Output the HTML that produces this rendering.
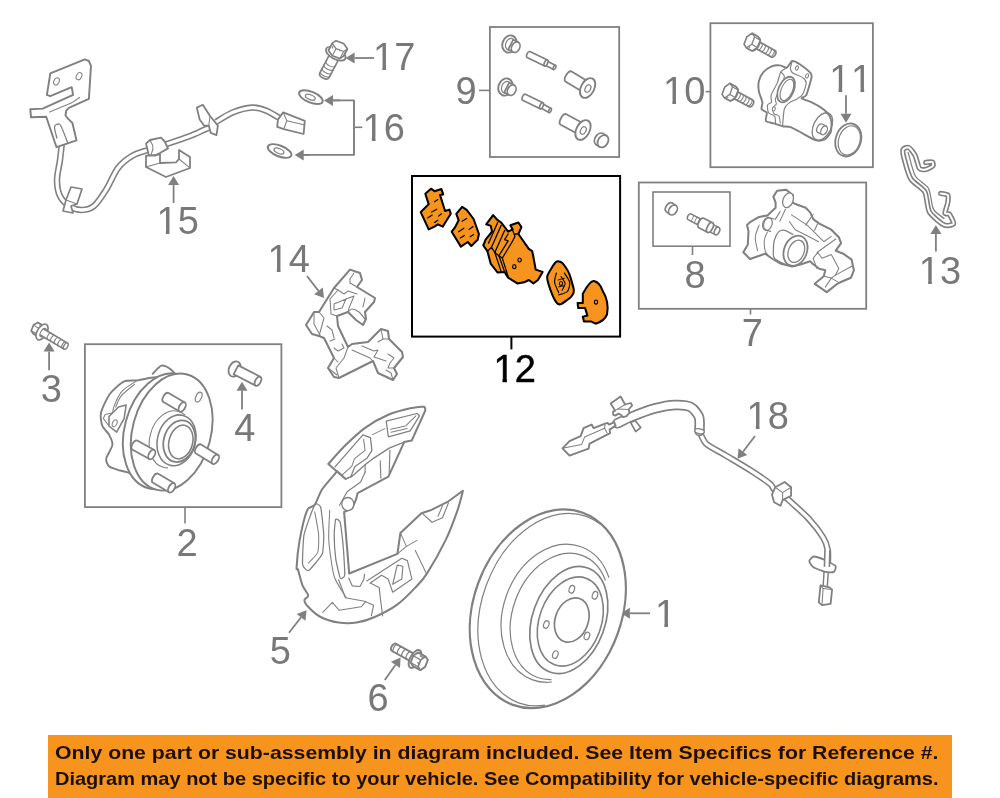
<!DOCTYPE html>
<html><head><meta charset="utf-8"><title>Parts diagram</title>
<style>
html,body{margin:0;padding:0;background:#fff;}
body{width:1000px;height:798px;overflow:hidden;position:relative;font-family:"Liberation Sans",sans-serif;}
svg{position:absolute;left:0;top:0;display:block;will-change:transform;}
svg text{font-family:"Liberation Sans",sans-serif;font-kerning:none;}
.banner{position:absolute;left:48px;top:735px;width:904px;height:63px;background:#F7941D;}
.banner div{position:absolute;left:8px;white-space:nowrap;font-weight:bold;color:#1a0d05;font-size:18.4px;line-height:26px;letter-spacing:-0.1px;transform-origin:left top;}
</style></head><body>
<div class="banner"></div>
<svg width="1000" height="798" viewBox="0 0 1000 798">
<rect x="489.9" y="27" width="129.3" height="130.0" fill="none" stroke="#808080" stroke-width="1.8"/>
<rect x="710.4" y="23.2" width="162.5" height="144.0" fill="none" stroke="#808080" stroke-width="1.8"/>
<rect x="638.8" y="182.5" width="227.4" height="126.3" fill="none" stroke="#808080" stroke-width="1.8"/>
<rect x="653" y="192" width="77.0" height="54.2" fill="none" stroke="#808080" stroke-width="1.6"/>
<rect x="84.9" y="344.2" width="196.5" height="162.9" fill="none" stroke="#808080" stroke-width="1.8"/>
<rect x="412" y="176" width="208.1" height="160.6" fill="none" stroke="#000" stroke-width="2"/>
<text x="373" y="69.5" font-size="38" fill="#787878" text-anchor="start" >17</text>
<rect x="375.20" y="66.00" width="7.15" height="5.20" fill="#fff"/>
<rect x="386.02" y="66.00" width="7.18" height="5.20" fill="#fff"/>
<text x="362.5" y="140.5" font-size="38" fill="#787878" text-anchor="start" >16</text>
<rect x="364.70" y="137.00" width="7.15" height="5.20" fill="#fff"/>
<rect x="375.52" y="137.00" width="7.18" height="5.20" fill="#fff"/>
<text x="156.5" y="234.2" font-size="38" fill="#787878" text-anchor="start" >15</text>
<rect x="158.70" y="230.70" width="7.15" height="5.20" fill="#fff"/>
<rect x="169.52" y="230.70" width="7.18" height="5.20" fill="#fff"/>
<text x="455.5" y="104" font-size="38" fill="#787878" text-anchor="start" >9</text>
<text x="663" y="103.6" font-size="38" fill="#787878" text-anchor="start" >10</text>
<rect x="665.20" y="100.10" width="7.15" height="5.20" fill="#fff"/>
<rect x="676.02" y="100.10" width="7.18" height="5.20" fill="#fff"/>
<text x="829.2" y="91.6" font-size="38" fill="#787878" text-anchor="start" letter-spacing="0.8" >11</text>
<rect x="831.40" y="88.10" width="7.15" height="5.20" fill="#fff"/>
<rect x="842.22" y="88.10" width="7.18" height="5.20" fill="#fff"/>
<rect x="853.33" y="88.10" width="7.15" height="5.20" fill="#fff"/>
<rect x="864.15" y="88.10" width="7.18" height="5.20" fill="#fff"/>
<text x="684.5" y="287.5" font-size="38" fill="#787878" text-anchor="start" >8</text>
<text x="741.7" y="346" font-size="38" fill="#787878" text-anchor="start" >7</text>
<text x="918.8" y="283.5" font-size="38" fill="#787878" text-anchor="start" >13</text>
<rect x="921.00" y="280.00" width="7.15" height="5.20" fill="#fff"/>
<rect x="931.82" y="280.00" width="7.18" height="5.20" fill="#fff"/>
<text x="267.5" y="272" font-size="38" fill="#787878" text-anchor="start" >14</text>
<rect x="269.70" y="268.50" width="7.15" height="5.20" fill="#fff"/>
<rect x="280.52" y="268.50" width="7.18" height="5.20" fill="#fff"/>
<text x="493.5" y="381.5" font-size="38" fill="#000" text-anchor="start" stroke="#000" stroke-width="0.5">12</text>
<rect x="495.70" y="378.00" width="6.80" height="5.20" fill="#fff"/>
<rect x="506.87" y="378.00" width="7.18" height="5.20" fill="#fff"/>
<text x="40.7" y="402.3" font-size="38" fill="#787878" text-anchor="start" >3</text>
<text x="234.2" y="440.8" font-size="38" fill="#787878" text-anchor="start" >4</text>
<text x="176.5" y="556" font-size="38" fill="#787878" text-anchor="start" >2</text>
<text x="269.8" y="664" font-size="38" fill="#787878" text-anchor="start" >5</text>
<text x="367.5" y="711" font-size="38" fill="#787878" text-anchor="start" >6</text>
<text x="655" y="626.9" font-size="38" fill="#787878" text-anchor="start" >1</text>
<rect x="657.20" y="623.40" width="7.15" height="5.20" fill="#fff"/>
<rect x="668.02" y="623.40" width="7.18" height="5.20" fill="#fff"/>
<text x="746.5" y="428.8" font-size="38" fill="#787878" text-anchor="start" >18</text>
<rect x="748.70" y="425.30" width="7.15" height="5.20" fill="#fff"/>
<rect x="759.52" y="425.30" width="7.18" height="5.20" fill="#fff"/>
<line x1="479" y1="90.4" x2="489.9" y2="90.4" stroke="#808080" stroke-width="1.6"/>
<line x1="705.6" y1="91.6" x2="710.4" y2="91.6" stroke="#808080" stroke-width="1.6"/>
<line x1="692.5" y1="246" x2="692.5" y2="255" stroke="#808080" stroke-width="1.6"/>
<line x1="750.5" y1="308.8" x2="750.5" y2="314.5" stroke="#808080" stroke-width="1.6"/>
<line x1="185" y1="507" x2="185" y2="523.4" stroke="#808080" stroke-width="1.6"/>
<line x1="511.4" y1="336.6" x2="511.4" y2="349.4" stroke="#000" stroke-width="2"/>
<line x1="374" y1="58" x2="354.6" y2="58.0" stroke="#808080" stroke-width="1.8"/>
<polygon points="345.6,58.0 354.6,52.5 354.6,63.5" fill="#808080"/>
<path d="M333,100.4 L354,100.4 L354,154.9 L303.5,154.9" fill="none" stroke="#808080" stroke-width="1.92" stroke-linejoin="round" stroke-linecap="round" />
<line x1="354" y1="127.3" x2="362.4" y2="127.3" stroke="#808080" stroke-width="1.6"/>
<line x1="340" y1="100.4" x2="333.0" y2="100.4" stroke="#808080" stroke-width="1.8"/>
<polygon points="324.0,100.4 333.0,94.9 333.0,105.9" fill="#808080"/>
<line x1="310" y1="154.9" x2="303.7" y2="154.9" stroke="#808080" stroke-width="1.8"/>
<polygon points="294.7,154.9 303.7,149.4 303.7,160.4" fill="#808080"/>
<line x1="173.6" y1="203" x2="173.6" y2="185.0" stroke="#808080" stroke-width="1.8"/>
<polygon points="173.6,176.0 179.1,185.0 168.1,185.0" fill="#808080"/>
<line x1="846" y1="95.2" x2="846.0" y2="113.8" stroke="#808080" stroke-width="1.8"/>
<polygon points="846.0,122.8 840.5,113.8 851.5,113.8" fill="#808080"/>
<line x1="935.9" y1="251.5" x2="935.9" y2="233.9" stroke="#808080" stroke-width="1.8"/>
<polygon points="935.9,224.9 941.4,233.9 930.4,233.9" fill="#808080"/>
<line x1="307" y1="276" x2="318.5" y2="290.9" stroke="#808080" stroke-width="1.8"/>
<polygon points="324.0,298.0 314.1,294.2 322.8,287.5" fill="#808080"/>
<line x1="49.1" y1="370.3" x2="49.1" y2="351.6" stroke="#808080" stroke-width="1.8"/>
<polygon points="49.1,342.6 54.6,351.6 43.6,351.6" fill="#808080"/>
<line x1="242" y1="409.4" x2="242.0" y2="390.7" stroke="#808080" stroke-width="1.8"/>
<polygon points="242.0,381.7 247.5,390.7 236.5,390.7" fill="#808080"/>
<line x1="289" y1="632.7" x2="301.1" y2="617.3" stroke="#808080" stroke-width="1.8"/>
<polygon points="306.6,610.2 305.4,620.7 296.7,613.9" fill="#808080"/>
<line x1="384.8" y1="680.1" x2="395.4" y2="664.9" stroke="#808080" stroke-width="1.8"/>
<polygon points="400.6,657.5 400.0,668.0 390.9,661.7" fill="#808080"/>
<line x1="650" y1="613.3" x2="629.9" y2="613.3" stroke="#808080" stroke-width="1.8"/>
<polygon points="620.9,613.3 629.9,607.8 629.9,618.8" fill="#808080"/>
<line x1="755" y1="436" x2="743.0" y2="451.7" stroke="#808080" stroke-width="1.8"/>
<polygon points="737.5,458.8 738.6,448.3 747.3,455.0" fill="#808080"/>
<path d="M62.0,142.0 C61.7,145.0 60.8,153.7 60.0,160.0 C59.2,166.3 57.0,174.0 57.0,180.0 C57.0,186.0 57.8,191.6 60.0,196.0 C62.2,200.4 66.3,204.1 70.0,206.4 C73.7,208.7 78.0,210.1 82.0,210.0 C86.0,209.9 90.0,209.3 94.0,206.0 C98.0,202.7 102.0,196.3 106.0,190.0 C110.0,183.7 113.7,173.7 118.0,168.0 C122.3,162.3 127.0,159.0 132.0,156.0 C137.0,153.0 141.7,152.2 148.0,150.0 C154.3,147.8 163.0,145.3 170.0,143.0 C177.0,140.7 184.0,138.3 190.0,136.0 C196.0,133.7 201.8,130.7 206.0,129.0 C210.2,127.3 213.5,126.2 215.0,125.6" fill="none" stroke="#808080" stroke-width="6.5" stroke-linejoin="round" stroke-linecap="butt" />
<path d="M62.0,142.0 C61.7,145.0 60.8,153.7 60.0,160.0 C59.2,166.3 57.0,174.0 57.0,180.0 C57.0,186.0 57.8,191.6 60.0,196.0 C62.2,200.4 66.3,204.1 70.0,206.4 C73.7,208.7 78.0,210.1 82.0,210.0 C86.0,209.9 90.0,209.3 94.0,206.0 C98.0,202.7 102.0,196.3 106.0,190.0 C110.0,183.7 113.7,173.7 118.0,168.0 C122.3,162.3 127.0,159.0 132.0,156.0 C137.0,153.0 141.7,152.2 148.0,150.0 C154.3,147.8 163.0,145.3 170.0,143.0 C177.0,140.7 184.0,138.3 190.0,136.0 C196.0,133.7 201.8,130.7 206.0,129.0 C210.2,127.3 213.5,126.2 215.0,125.6" fill="none" stroke="#fff" stroke-width="3.33" stroke-linejoin="round" stroke-linecap="square" />
<path d="M216.0,122.0 C218.8,120.4 226.8,114.8 232.8,112.4 C238.8,110.0 246.4,107.9 252.0,107.6 C257.6,107.3 261.4,108.7 266.4,110.7 C271.4,112.7 279.4,118.1 282.0,119.6" fill="none" stroke="#808080" stroke-width="6.5" stroke-linejoin="round" stroke-linecap="butt" />
<path d="M216.0,122.0 C218.8,120.4 226.8,114.8 232.8,112.4 C238.8,110.0 246.4,107.9 252.0,107.6 C257.6,107.3 261.4,108.7 266.4,110.7 C271.4,112.7 279.4,118.1 282.0,119.6" fill="none" stroke="#fff" stroke-width="3.33" stroke-linejoin="round" stroke-linecap="square" />
<polygon points="50.3,73.4 84.8,59.4 88.9,61.0 91.0,65.8 88.9,98.9 79.3,103.1 68.9,107.9 66.2,110.6 65.5,115.5 68.2,118.9 72.4,123.0 76.5,140.3 66.9,143.7 56.5,147.2 46.2,116.8 31.0,117.3 30.3,109.3 42.7,108.6 73.1,94.8 71.7,87.2 50.3,96.2 46.9,94.8" fill="#fff" stroke="#808080" stroke-width="1.92" stroke-linejoin="round" stroke-linecap="round" />
<ellipse cx="56.5" cy="81.4" rx="2.6" ry="3.8" transform="rotate(25 56.5 81.4)" fill="#fff" stroke="#808080" stroke-width="1.05"/>
<ellipse cx="79.0" cy="76.2" rx="2.6" ry="3.8" transform="rotate(25 79.0 76.2)" fill="#fff" stroke="#808080" stroke-width="1.05"/>
<polyline points="49.6,112.0 72.4,102.4 79.5,97.5" fill="none" stroke="#808080" stroke-width="1.05" stroke-linejoin="round" stroke-linecap="round" />
<path d="M56.9,138.2 C56.5,136.4 54.5,129.5 54.5,127.2 C54.5,124.9 55.9,124.7 56.9,124.4 C58.0,124.1 58.9,122.5 60.7,125.5 C62.4,128.5 66.4,139.5 67.5,142.3" fill="none" stroke="#808080" stroke-width="1.26" stroke-linejoin="round" stroke-linecap="round" />
<polygon points="71.0,187.0 82.0,189.0 77.0,204.0 71.0,206.0 73.0,213.0 63.0,211.0 66.0,200.0" fill="#fff" stroke="#808080" stroke-width="1.68" stroke-linejoin="round" stroke-linecap="round" />
<polyline points="66.0,200.0 77.0,204.0" fill="none" stroke="#808080" stroke-width="1.05" stroke-linejoin="round" stroke-linecap="round" />
<polygon points="146.0,143.6 150.0,140.0 161.0,137.6 164.4,141.0 168.0,148.4 160.0,153.0 155.0,155.2 149.0,155.6" fill="#fff" stroke="#808080" stroke-width="1.8" stroke-linejoin="round" stroke-linecap="round" />
<path d="M150.0,140.0 C150.5,141.2 152.8,144.5 153.0,147.0 C153.2,149.5 151.3,153.7 151.0,155.0" fill="none" stroke="#808080" stroke-width="1.05" stroke-linejoin="round" stroke-linecap="round" />
<polygon points="146.0,155.6 146.0,167.0 166.0,177.0 190.0,168.0 190.0,157.0 179.0,150.0 179.0,159.0 176.0,162.4 160.0,163.0 160.0,154.0 155.0,155.6" fill="#fff" stroke="#808080" stroke-width="1.8" stroke-linejoin="round" stroke-linecap="round" />
<polyline points="146.0,167.0 160.0,163.0" fill="none" stroke="#808080" stroke-width="1.05" stroke-linejoin="round" stroke-linecap="round" />
<polyline points="179.0,159.0 189.6,167.6" fill="none" stroke="#808080" stroke-width="1.05" stroke-linejoin="round" stroke-linecap="round" />
<polygon points="196.8,107.6 202.8,104.7 210.0,116.0 217.9,125.6 216.5,135.2 210.7,132.8 208.8,125.6 204.0,125.6 199.7,119.6" fill="#fff" stroke="#808080" stroke-width="1.8" stroke-linejoin="round" stroke-linecap="round" />
<polyline points="208.8,125.6 210.0,116.0" fill="none" stroke="#808080" stroke-width="1.05" stroke-linejoin="round" stroke-linecap="round" />
<polygon points="283.2,112.4 304.8,120.8 303.6,134.0 283.7,129.2 277.2,126.8 277.9,119.6" fill="#fff" stroke="#808080" stroke-width="1.8" stroke-linejoin="round" stroke-linecap="round" />
<polyline points="283.2,112.4 286.8,120.8 283.7,129.2" fill="none" stroke="#808080" stroke-width="1.05" stroke-linejoin="round" stroke-linecap="round" />
<polyline points="286.8,120.8 304.8,125.1" fill="none" stroke="#808080" stroke-width="1.05" stroke-linejoin="round" stroke-linecap="round" />
<path d="M331.2,51.3 L319.7,73.1 A3.1,5.2 117.8 0 0 328.9,77.9 L340.4,56.1" fill="#fff" stroke="#808080" stroke-width="1.68" stroke-linejoin="round" stroke-linecap="round" />
<path d="M326.0,61.1 A2.6,5.2 117.8 0 0 335.3,66.0" fill="none" stroke="#808080" stroke-width="1.1" stroke-linejoin="round" stroke-linecap="round" />
<path d="M324.2,64.5 A2.6,5.2 117.8 0 0 333.5,69.4" fill="none" stroke="#808080" stroke-width="1.1" stroke-linejoin="round" stroke-linecap="round" />
<path d="M322.4,67.9 A2.6,5.2 117.8 0 0 331.7,72.8" fill="none" stroke="#808080" stroke-width="1.1" stroke-linejoin="round" stroke-linecap="round" />
<path d="M320.6,71.3 A2.6,5.2 117.8 0 0 329.9,76.2" fill="none" stroke="#808080" stroke-width="1.1" stroke-linejoin="round" stroke-linecap="round" />
<ellipse cx="335.8" cy="53.7" rx="5.4" ry="10.8" transform="rotate(117.8 335.8 53.7)" fill="#fff" stroke="#808080" stroke-width="1.68"/>
<polygon points="328.4,50.5 332.2,43.4 335.9,40.9 343.5,43.6 347.4,49.0 343.6,56.0 339.9,58.6 332.3,55.8" fill="#fff" stroke="#808080" stroke-width="1.68" stroke-linejoin="round" stroke-linecap="round" />
<polyline points="332.2,43.4 328.4,50.5" fill="none" stroke="#808080" stroke-width="1.1" stroke-linejoin="round" stroke-linecap="round" />
<polyline points="336.0,48.7 332.3,55.8" fill="none" stroke="#808080" stroke-width="1.1" stroke-linejoin="round" stroke-linecap="round" />
<polyline points="343.6,51.5 339.9,58.6" fill="none" stroke="#808080" stroke-width="1.1" stroke-linejoin="round" stroke-linecap="round" />
<polyline points="347.4,49.0 343.6,56.0" fill="none" stroke="#808080" stroke-width="1.1" stroke-linejoin="round" stroke-linecap="round" />
<polyline points="343.5,43.6 339.8,50.7" fill="none" stroke="#808080" stroke-width="1.1" stroke-linejoin="round" stroke-linecap="round" />
<polyline points="335.9,40.8 332.2,47.9" fill="none" stroke="#808080" stroke-width="1.1" stroke-linejoin="round" stroke-linecap="round" />
<polygon points="332.2,43.4 336.0,48.7 343.6,51.5 347.4,49.0 343.5,43.6 335.9,40.8" fill="#fff" stroke="#808080" stroke-width="1.32" stroke-linejoin="round" stroke-linecap="round" />
<ellipse cx="310.9" cy="97.2" rx="12.6" ry="5.4" transform="rotate(22 310.9 97.2)" fill="#fff" stroke="#808080" stroke-width="1.92"/>
<ellipse cx="310.29999999999995" cy="97.2" rx="5.2" ry="2.4" transform="rotate(22 310.29999999999995 97.2)" fill="#fff" stroke="#808080" stroke-width="1.26"/>
<ellipse cx="279.6" cy="151" rx="12.6" ry="5.4" transform="rotate(22 279.6 151)" fill="#fff" stroke="#808080" stroke-width="1.92"/>
<ellipse cx="279.0" cy="151" rx="5.2" ry="2.4" transform="rotate(22 279.0 151)" fill="#fff" stroke="#808080" stroke-width="1.26"/>
<polygon points="31.2,330.7 33.5,325.1 37.8,322.6 43.9,326.1 45.9,329.2 43.6,334.8 39.3,337.4 33.2,333.8" fill="#fff" stroke="#808080" stroke-width="1.68" stroke-linejoin="round" stroke-linecap="round" />
<polyline points="33.3,333.8 39.3,337.3" fill="none" stroke="#808080" stroke-width="1.1" stroke-linejoin="round" stroke-linecap="round" />
<polyline points="37.6,331.2 43.6,334.8" fill="none" stroke="#808080" stroke-width="1.1" stroke-linejoin="round" stroke-linecap="round" />
<polyline points="39.9,325.6 45.9,329.2" fill="none" stroke="#808080" stroke-width="1.1" stroke-linejoin="round" stroke-linecap="round" />
<polyline points="37.8,322.6 43.9,326.1" fill="none" stroke="#808080" stroke-width="1.1" stroke-linejoin="round" stroke-linecap="round" />
<polyline points="33.5,325.1 39.6,328.7" fill="none" stroke="#808080" stroke-width="1.1" stroke-linejoin="round" stroke-linecap="round" />
<polyline points="31.2,330.7 37.3,334.3" fill="none" stroke="#808080" stroke-width="1.1" stroke-linejoin="round" stroke-linecap="round" />
<ellipse cx="42" cy="332" rx="4.8" ry="8.8" transform="rotate(30.6 42 332)" fill="#fff" stroke="#808080" stroke-width="1.68"/>
<ellipse cx="43.3" cy="332.8" rx="2.6" ry="4.7" transform="rotate(30.6 43.3 332.8)" fill="#fff" stroke="#808080" stroke-width="1.1"/>
<path d="M40.2,335.0 L64.0,349.1 L67.6,343.1 L43.8,329.0" fill="#fff" stroke="#808080" stroke-width="1.68" stroke-linejoin="round" stroke-linecap="round" />
<ellipse cx="65.8" cy="346.1" rx="1.9" ry="3.5" transform="rotate(30.6 65.8 346.1)" fill="#fff" stroke="#808080" stroke-width="1.32"/>
<path d="M47.4,339.2 A1.9,3.5 30.6 0 1 50.9,333.3" fill="none" stroke="#808080" stroke-width="1.1" stroke-linejoin="round" stroke-linecap="round" />
<path d="M51.1,341.4 A1.9,3.5 30.6 0 1 54.6,335.4" fill="none" stroke="#808080" stroke-width="1.1" stroke-linejoin="round" stroke-linecap="round" />
<path d="M54.8,343.6 A1.9,3.5 30.6 0 1 58.3,337.6" fill="none" stroke="#808080" stroke-width="1.1" stroke-linejoin="round" stroke-linecap="round" />
<path d="M58.4,345.8 A1.9,3.5 30.6 0 1 62.0,339.8" fill="none" stroke="#808080" stroke-width="1.1" stroke-linejoin="round" stroke-linecap="round" />
<path d="M62.1,347.9 A1.9,3.5 30.6 0 1 65.7,342.0" fill="none" stroke="#808080" stroke-width="1.1" stroke-linejoin="round" stroke-linecap="round" />
<ellipse cx="509.5" cy="44" rx="7" ry="8.8" transform="rotate(20 509.5 44)" fill="#fff" stroke="#808080" stroke-width="1.92"/>
<ellipse cx="510.1" cy="44.3" rx="4.4" ry="6" transform="rotate(20 510.1 44.3)" fill="#fff" stroke="#808080" stroke-width="1.16"/>
<path d="M513.2,52.1 L508.2,49.5 L513.2,39.7 L518.2,42.3" fill="#fff" stroke="#808080" stroke-width="1.68" stroke-linejoin="round" stroke-linecap="round" />
<ellipse cx="515.7" cy="47.2" rx="4.0" ry="5.5" transform="rotate(27.5 515.7 47.2)" fill="#fff" stroke="#808080" stroke-width="1.68"/>
<ellipse cx="505.5" cy="87" rx="7" ry="8.8" transform="rotate(20 505.5 87)" fill="#fff" stroke="#808080" stroke-width="1.92"/>
<ellipse cx="506.1" cy="87.3" rx="4.4" ry="6" transform="rotate(20 506.1 87.3)" fill="#fff" stroke="#808080" stroke-width="1.16"/>
<path d="M509.2,95.1 L504.2,92.5 L509.2,82.7 L514.2,85.3" fill="#fff" stroke="#808080" stroke-width="1.68" stroke-linejoin="round" stroke-linecap="round" />
<ellipse cx="511.7" cy="90.2" rx="4.0" ry="5.5" transform="rotate(27.5 511.7 90.2)" fill="#fff" stroke="#808080" stroke-width="1.68"/>
<path d="M553.4,69.5 L544.9,65.0 A1.1,2.3 27.9 0 1 547.1,61.0 L555.6,65.5" fill="#fff" stroke="#808080" stroke-width="1.56" stroke-linejoin="round" stroke-linecap="round" />
<ellipse cx="554.5" cy="67.5" rx="1.1" ry="2.3" transform="rotate(27.9 554.5 67.5)" fill="#fff" stroke="#808080" stroke-width="1.56"/>
<path d="M544.6,66.0 L527.1,57.6 A1.6,3.3 25.6 0 1 529.9,51.6 L547.4,60.0" fill="#fff" stroke="#808080" stroke-width="1.68" stroke-linejoin="round" stroke-linecap="round" />
<ellipse cx="546" cy="63" rx="1.6" ry="3.3" transform="rotate(25.6 546 63)" fill="#fff" stroke="#808080" stroke-width="1.68"/>
<path d="M548.9,112.5 L540.4,107.8 A1.1,2.3 28.9 0 1 542.6,103.8 L551.1,108.5" fill="#fff" stroke="#808080" stroke-width="1.56" stroke-linejoin="round" stroke-linecap="round" />
<ellipse cx="550" cy="110.5" rx="1.1" ry="2.3" transform="rotate(28.9 550 110.5)" fill="#fff" stroke="#808080" stroke-width="1.56"/>
<path d="M540.1,108.8 L522.6,100.3 A1.6,3.3 25.9 0 1 525.4,94.3 L542.9,102.8" fill="#fff" stroke="#808080" stroke-width="1.68" stroke-linejoin="round" stroke-linecap="round" />
<ellipse cx="541.5" cy="105.8" rx="1.6" ry="3.3" transform="rotate(25.9 541.5 105.8)" fill="#fff" stroke="#808080" stroke-width="1.68"/>
<path d="M584.5,93.1 L565.4,81.6 A3.0,6.0 31.1 0 1 571.6,71.4 L590.7,82.9" fill="#fff" stroke="#808080" stroke-width="1.8" stroke-linejoin="round" stroke-linecap="round" />
<ellipse cx="587.6" cy="88" rx="6.6" ry="10.6" transform="rotate(28 587.6 88)" fill="#fff" stroke="#808080" stroke-width="1.92"/>
<ellipse cx="587.9" cy="88.5" rx="2.6" ry="4" transform="rotate(28 587.9 88.5)" fill="#fff" stroke="#808080" stroke-width="1.26"/>
<path d="M580.2,135.3 L560.7,124.8 A3.0,6.0 28.3 0 1 566.3,114.2 L585.8,124.7" fill="#fff" stroke="#808080" stroke-width="1.8" stroke-linejoin="round" stroke-linecap="round" />
<ellipse cx="583" cy="130" rx="6.6" ry="10.6" transform="rotate(28 583 130)" fill="#fff" stroke="#808080" stroke-width="1.92"/>
<ellipse cx="583.3" cy="130.5" rx="2.6" ry="4" transform="rotate(28 583.3 130.5)" fill="#fff" stroke="#808080" stroke-width="1.26"/>
<path d="M599.4,146.8 L595.9,144.5 A4.9,6.6 33.3 0 1 603.1,133.5 L606.6,135.8" fill="#fff" stroke="#808080" stroke-width="1.8" stroke-linejoin="round" stroke-linecap="round" />
<ellipse cx="603" cy="141.3" rx="4.9" ry="6.6" transform="rotate(33.3 603 141.3)" fill="#fff" stroke="#808080" stroke-width="1.8"/>
<path d="M753.7,47.3 L771.7,57.3 A2.3,3.8 29.1 0 0 775.3,50.7 L757.3,40.7" fill="#fff" stroke="#808080" stroke-width="1.68" stroke-linejoin="round" stroke-linecap="round" />
<path d="M758.2,49.8 A1.9,3.8 29.1 0 0 761.8,43.2" fill="none" stroke="#808080" stroke-width="1.1" stroke-linejoin="round" stroke-linecap="round" />
<path d="M761.2,51.5 A1.9,3.8 29.1 0 0 764.9,44.9" fill="none" stroke="#808080" stroke-width="1.1" stroke-linejoin="round" stroke-linecap="round" />
<path d="M764.2,53.2 A1.9,3.8 29.1 0 0 767.9,46.5" fill="none" stroke="#808080" stroke-width="1.1" stroke-linejoin="round" stroke-linecap="round" />
<path d="M767.2,54.8 A1.9,3.8 29.1 0 0 770.9,48.2" fill="none" stroke="#808080" stroke-width="1.1" stroke-linejoin="round" stroke-linecap="round" />
<path d="M770.2,56.5 A1.9,3.8 29.1 0 0 773.9,49.9" fill="none" stroke="#808080" stroke-width="1.1" stroke-linejoin="round" stroke-linecap="round" />
<ellipse cx="755.5" cy="44" rx="3.6" ry="7.2" transform="rotate(29.1 755.5 44)" fill="#fff" stroke="#808080" stroke-width="1.68"/>
<polygon points="744.2,44.2 747.0,36.9 752.2,33.3 757.9,36.5 760.3,40.2 757.4,47.4 752.2,51.0 746.5,47.9" fill="#fff" stroke="#808080" stroke-width="1.68" stroke-linejoin="round" stroke-linecap="round" />
<polyline points="746.5,47.9 752.2,51.0" fill="none" stroke="#808080" stroke-width="1.1" stroke-linejoin="round" stroke-linecap="round" />
<polyline points="751.8,44.3 757.4,47.4" fill="none" stroke="#808080" stroke-width="1.1" stroke-linejoin="round" stroke-linecap="round" />
<polyline points="754.6,37.0 760.3,40.2" fill="none" stroke="#808080" stroke-width="1.1" stroke-linejoin="round" stroke-linecap="round" />
<polyline points="752.2,33.3 757.9,36.5" fill="none" stroke="#808080" stroke-width="1.1" stroke-linejoin="round" stroke-linecap="round" />
<polyline points="747.0,36.9 752.7,40.1" fill="none" stroke="#808080" stroke-width="1.1" stroke-linejoin="round" stroke-linecap="round" />
<polyline points="744.2,44.2 749.8,47.3" fill="none" stroke="#808080" stroke-width="1.1" stroke-linejoin="round" stroke-linecap="round" />
<polygon points="746.5,47.9 751.8,44.3 754.6,37.0 752.2,33.3 747.0,36.9 744.2,44.2" fill="#fff" stroke="#808080" stroke-width="1.32" stroke-linejoin="round" stroke-linecap="round" />
<path d="M731.7,97.4 L749.2,106.7 A2.3,3.8 28.0 0 0 752.8,99.9 L735.3,90.6" fill="#fff" stroke="#808080" stroke-width="1.68" stroke-linejoin="round" stroke-linecap="round" />
<path d="M736.1,99.7 A1.9,3.8 28.0 0 0 739.7,93.0" fill="none" stroke="#808080" stroke-width="1.1" stroke-linejoin="round" stroke-linecap="round" />
<path d="M739.0,101.2 A1.9,3.8 28.0 0 0 742.6,94.5" fill="none" stroke="#808080" stroke-width="1.1" stroke-linejoin="round" stroke-linecap="round" />
<path d="M742.0,102.8 A1.9,3.8 28.0 0 0 745.5,96.1" fill="none" stroke="#808080" stroke-width="1.1" stroke-linejoin="round" stroke-linecap="round" />
<path d="M744.9,104.4 A1.9,3.8 28.0 0 0 748.5,97.6" fill="none" stroke="#808080" stroke-width="1.1" stroke-linejoin="round" stroke-linecap="round" />
<path d="M747.8,105.9 A1.9,3.8 28.0 0 0 751.4,99.2" fill="none" stroke="#808080" stroke-width="1.1" stroke-linejoin="round" stroke-linecap="round" />
<ellipse cx="733.5" cy="94" rx="3.6" ry="7.2" transform="rotate(28.0 733.5 94)" fill="#fff" stroke="#808080" stroke-width="1.68"/>
<polygon points="722.2,94.4 724.9,87.1 730.0,83.4 735.8,86.5 738.2,90.1 735.5,97.4 730.4,101.1 724.6,98.0" fill="#fff" stroke="#808080" stroke-width="1.68" stroke-linejoin="round" stroke-linecap="round" />
<polyline points="724.6,98.0 730.3,101.1" fill="none" stroke="#808080" stroke-width="1.1" stroke-linejoin="round" stroke-linecap="round" />
<polyline points="729.8,94.4 735.5,97.4" fill="none" stroke="#808080" stroke-width="1.1" stroke-linejoin="round" stroke-linecap="round" />
<polyline points="732.5,87.0 738.2,90.1" fill="none" stroke="#808080" stroke-width="1.1" stroke-linejoin="round" stroke-linecap="round" />
<polyline points="730.0,83.4 735.8,86.5" fill="none" stroke="#808080" stroke-width="1.1" stroke-linejoin="round" stroke-linecap="round" />
<polyline points="724.9,87.1 730.6,90.1" fill="none" stroke="#808080" stroke-width="1.1" stroke-linejoin="round" stroke-linecap="round" />
<polyline points="722.2,94.4 727.9,97.4" fill="none" stroke="#808080" stroke-width="1.1" stroke-linejoin="round" stroke-linecap="round" />
<polygon points="724.6,98.0 729.8,94.4 732.5,87.0 730.0,83.4 724.9,87.1 722.2,94.4" fill="#fff" stroke="#808080" stroke-width="1.32" stroke-linejoin="round" stroke-linecap="round" />
<path d="M792.2,61.0 C793.7,60.6 797.9,63.0 800.1,64.5 C802.2,65.9 809.3,71.7 810.6,73.2 C811.9,74.8 812.0,75.1 811.5,77.6 C811.0,80.2 807.4,92.8 806.2,95.2 C805.1,97.6 801.0,97.4 801.8,98.3 C802.7,99.3 810.5,101.6 813.2,103.1 C816.0,104.5 823.4,109.0 825.5,111.0 C827.6,112.9 830.5,117.3 831.1,119.7 C831.8,122.2 831.5,129.7 830.8,132.0 C830.0,134.3 826.5,138.4 824.6,139.4 C822.8,140.3 818.3,141.0 815.4,140.1 C812.4,139.2 802.1,133.0 799.2,131.5 C796.3,130.0 792.4,127.7 790.4,127.1 C788.5,126.5 784.4,126.6 782.5,126.2 C780.7,125.8 776.6,124.2 774.6,123.6 C772.7,123.0 766.8,122.2 765.9,121.0 C765.0,119.7 767.3,114.1 766.8,112.7 C766.2,111.3 762.0,110.4 761.5,109.2 C761.0,108.0 762.7,104.2 762.4,102.2 C762.1,100.1 759.3,94.1 758.9,91.7 C758.5,89.2 758.3,83.4 758.9,81.1 C759.4,78.9 761.8,74.1 763.2,72.4 C764.7,70.7 769.2,67.4 771.1,66.6 C773.1,65.8 778.1,65.2 779.9,65.4 C781.8,65.5 785.5,68.1 786.9,67.6 C788.4,67.1 790.7,61.3 792.2,61.0Z" fill="#fff" stroke="#808080" stroke-width="1.92" stroke-linejoin="round" stroke-linecap="round" />
<path d="M786.9,67.6 C786.1,68.2 782.1,70.0 780.8,72.0 C779.5,74.1 778.6,79.8 777.3,82.9 C776.0,86.0 771.9,92.6 771.1,95.2 C770.4,97.7 772.0,100.9 771.5,102.2 C771.0,103.5 768.0,103.4 767.6,104.8 C767.2,106.2 767.6,111.2 768.5,112.7 C769.4,114.2 773.7,114.8 774.6,116.2 C775.6,117.6 775.4,122.3 775.5,123.2" fill="none" stroke="#808080" stroke-width="1.16" stroke-linejoin="round" stroke-linecap="round" />
<path d="M792.2,61.0 C792.0,62.0 790.3,67.2 790.4,68.9 C790.6,70.5 791.4,72.1 793.1,73.2 C794.7,74.4 801.0,76.3 802.7,77.6 C804.5,78.9 806.2,80.7 806.2,82.9 C806.2,85.1 803.9,92.2 802.7,94.3 C801.5,96.4 799.3,97.5 797.5,98.7 C795.6,99.9 790.4,101.7 788.7,103.1 C786.9,104.5 785.1,106.1 784.3,109.2 C783.5,112.3 782.8,124.0 782.5,126.2" fill="none" stroke="#808080" stroke-width="1.16" stroke-linejoin="round" stroke-linecap="round" />
<path d="M780.8,72.0 C781.3,72.5 784.1,74.4 784.3,75.9 C784.5,77.3 783.7,79.9 782.5,82.9 C781.4,85.9 776.3,95.9 775.5,98.7 C774.7,101.5 776.8,102.8 776.4,103.9 C776.1,105.1 773.2,106.2 772.9,107.5 C772.5,108.7 773.0,112.4 773.8,113.6 C774.6,114.8 778.2,114.9 779.0,116.2 C779.9,117.5 780.1,122.3 780.3,123.2" fill="none" stroke="#808080" stroke-width="1.05" stroke-linejoin="round" stroke-linecap="round" />
<ellipse cx="786.1" cy="89.6" rx="7.6" ry="13.6" transform="rotate(24 786.1 89.6)" fill="#fff" stroke="#808080" stroke-width="1.8"/>
<ellipse cx="786.9" cy="89.9" rx="5.6" ry="11.4" transform="rotate(24 786.9 89.9)" fill="#fff" stroke="#808080" stroke-width="1.16"/>
<ellipse cx="796.9" cy="68.0" rx="1.4" ry="2.2" transform="rotate(24 796.9 68.0)" fill="#fff" stroke="#808080" stroke-width="1.05"/>
<ellipse cx="807.1" cy="75.9" rx="1.4" ry="2.2" transform="rotate(24 807.1 75.9)" fill="#fff" stroke="#808080" stroke-width="1.05"/>
<ellipse cx="773.8" cy="108.9" rx="1.4" ry="2.2" transform="rotate(24 773.8 108.9)" fill="#fff" stroke="#808080" stroke-width="1.05"/>
<ellipse cx="822.4" cy="126.4" rx="8.8" ry="14.6" transform="rotate(27 822.4 126.4)" fill="none" stroke="#808080" stroke-width="1.26"/>
<path d="M822.0,134.5 L817.8,132.4 A2.9,4.7 26.6 0 1 822.0,124.0 L826.2,126.1" fill="#fff" stroke="#808080" stroke-width="1.26" stroke-linejoin="round" stroke-linecap="round" />
<ellipse cx="824.1" cy="130.3" rx="2.9" ry="4.7" transform="rotate(26.6 824.1 130.3)" fill="#fff" stroke="#808080" stroke-width="1.26"/>
<ellipse cx="848.3" cy="139.9" rx="12.6" ry="16.9" transform="rotate(18 848.3 139.9)" fill="#fff" stroke="#808080" stroke-width="1.8"/>
<ellipse cx="849.3" cy="140.4" rx="10.6" ry="15" transform="rotate(18 849.3 140.4)" fill="#fff" stroke="#808080" stroke-width="1.16"/>
<polygon points="773.4,196.6 777.1,190.8 786.2,189.8 792.9,195.0 792.2,202.6 797.4,204.8 805.7,207.8 810.2,212.4 813.2,219.1 819.3,223.6 831.3,229.7 838.8,237.2 841.1,243.2 835.8,250.7 843.3,253.7 851.6,259.7 853.9,270.3 850.9,277.8 840.3,282.3 837.3,283.8 826.8,292.1 814.7,283.8 823.8,276.3 825.3,270.3 819.3,268.8 813.2,264.3 810.2,261.3 801.2,264.3 792.2,266.5 780.1,263.5 772.6,259.0 765.1,253.7 750.0,259.0 743.3,252.2 747.8,244.7 748.5,231.2 747.0,225.1 750.0,222.1 759.1,216.9 767.4,215.4 775.6,207.8 775.6,202.6" fill="#fff" stroke="#808080" stroke-width="2.04" stroke-linejoin="round" stroke-linecap="round" />
<ellipse cx="788.0" cy="200.3" rx="5" ry="7.6" transform="rotate(22 788.0 200.3)" fill="#fff" stroke="#808080" stroke-width="1.26"/>
<path d="M770.7,231.3 L766.2,230.1 A4.5,6.4 14.9 0 1 769.5,217.8 L774.0,219.0" fill="#fff" stroke="#808080" stroke-width="1.26" stroke-linejoin="round" stroke-linecap="round" />
<ellipse cx="767.4" cy="223.9" rx="4.6" ry="6.6" transform="rotate(18 767.4 223.9)" fill="none" stroke="#808080" stroke-width="1.16"/>
<path d="M792.9,234.5 C791.7,233.9 786.8,230.8 784.7,230.4 C782.5,230.0 780.2,230.4 778.6,231.9 C777.1,233.4 775.2,237.4 774.4,240.2 C773.6,243.0 773.4,248.0 773.4,250.7 C773.4,253.4 772.7,256.2 774.4,258.2 C776.1,260.3 783.1,263.4 784.7,264.3" fill="none" stroke="#808080" stroke-width="1.26" stroke-linejoin="round" stroke-linecap="round" />
<ellipse cx="795.5" cy="250.7" rx="11.4" ry="15.6" transform="rotate(22 795.5 250.7)" fill="#fff" stroke="#808080" stroke-width="1.8"/>
<ellipse cx="796.3" cy="251.3" rx="7.8" ry="11.6" transform="rotate(22 796.3 251.3)" fill="#fff" stroke="#808080" stroke-width="1.26"/>
<path d="M767.4,231.9 C766.9,233.2 764.7,237.4 764.3,240.2 C764.0,243.0 764.6,248.6 765.1,250.7 C765.5,252.9 767.0,253.9 767.4,254.5" fill="none" stroke="#808080" stroke-width="1.05" stroke-linejoin="round" stroke-linecap="round" />
<path d="M759.1,225.1 C758.5,226.9 755.5,233.3 755.3,237.2 C755.1,241.0 757.2,248.7 757.6,250.7" fill="none" stroke="#808080" stroke-width="1.05" stroke-linejoin="round" stroke-linecap="round" />
<polyline points="780.1,211.6 775.3,219.4" fill="none" stroke="#808080" stroke-width="1.05" stroke-linejoin="round" stroke-linecap="round" />
<polyline points="785.4,209.3 779.8,221.4" fill="none" stroke="#808080" stroke-width="1.05" stroke-linejoin="round" stroke-linecap="round" />
<polyline points="791.4,214.9 807.2,225.1 823.8,241.7 831.3,236.4" fill="none" stroke="#808080" stroke-width="1.05" stroke-linejoin="round" stroke-linecap="round" />
<polyline points="789.5,221.8 795.2,229.7 807.2,235.7 818.5,241.7" fill="none" stroke="#808080" stroke-width="1.05" stroke-linejoin="round" stroke-linecap="round" />
<polyline points="805.7,225.1 813.2,214.3" fill="none" stroke="#808080" stroke-width="1.05" stroke-linejoin="round" stroke-linecap="round" />
<polyline points="814.4,230.4 817.5,223.9" fill="none" stroke="#808080" stroke-width="1.05" stroke-linejoin="round" stroke-linecap="round" />
<polyline points="817.0,252.5 835.8,239.0" fill="none" stroke="#808080" stroke-width="1.05" stroke-linejoin="round" stroke-linecap="round" />
<polyline points="813.2,258.2 817.8,252.5 822.0,258.2 831.3,254.5 838.8,268.5 835.5,275.1 852.7,265.8" fill="none" stroke="#808080" stroke-width="1.05" stroke-linejoin="round" stroke-linecap="round" />
<polyline points="813.2,258.5 817.0,268.8" fill="none" stroke="#808080" stroke-width="1.05" stroke-linejoin="round" stroke-linecap="round" />
<polyline points="831.3,278.1 839.1,282.6" fill="none" stroke="#808080" stroke-width="1.05" stroke-linejoin="round" stroke-linecap="round" />
<polyline points="823.8,276.3 831.3,278.1 835.5,275.1" fill="none" stroke="#808080" stroke-width="1.05" stroke-linejoin="round" stroke-linecap="round" />
<polyline points="825.3,287.1 831.3,278.1" fill="none" stroke="#808080" stroke-width="1.05" stroke-linejoin="round" stroke-linecap="round" />
<path d="M669.9,214.4 L666.4,211.9 A3.8,5.4 35.5 0 1 672.6,203.1 L676.1,205.6" fill="#fff" stroke="#808080" stroke-width="1.68" stroke-linejoin="round" stroke-linecap="round" />
<ellipse cx="673.0" cy="210.0" rx="3.8" ry="5.4" transform="rotate(35.5 673.0 210.0)" fill="#fff" stroke="#808080" stroke-width="1.68"/>
<path d="M715.2,234.6 L708.2,231.1 A2.4,4.0 26.6 0 1 711.8,223.9 L718.8,227.4" fill="#fff" stroke="#808080" stroke-width="1.56" stroke-linejoin="round" stroke-linecap="round" />
<ellipse cx="717.0" cy="231.0" rx="2.4" ry="4.0" transform="rotate(26.6 717.0 231.0)" fill="#fff" stroke="#808080" stroke-width="1.56"/>
<path d="M699.7,225.8 L688.0,219.6 A1.8,3.2 28.0 0 1 691.0,213.9 L702.8,220.2" fill="#fff" stroke="#808080" stroke-width="1.56" stroke-linejoin="round" stroke-linecap="round" />
<ellipse cx="701.2" cy="223.0" rx="1.8" ry="3.2" transform="rotate(28.0 701.2 223.0)" fill="#fff" stroke="#808080" stroke-width="1.56"/>
<path d="M707.5,232.3 L698.8,227.8 A2.7,5.4 27.2 0 1 703.7,218.2 L712.5,222.7" fill="#fff" stroke="#808080" stroke-width="1.68" stroke-linejoin="round" stroke-linecap="round" />
<ellipse cx="710.0" cy="227.5" rx="2.7" ry="5.4" transform="rotate(27.2 710.0 227.5)" fill="#fff" stroke="#808080" stroke-width="1.68"/>
<polyline points="694.0,215.4 691.2,221.2" fill="none" stroke="#808080" stroke-width="0.95" stroke-linejoin="round" stroke-linecap="round" />
<polyline points="697.0,217.0 694.2,222.8" fill="none" stroke="#808080" stroke-width="0.95" stroke-linejoin="round" stroke-linecap="round" />
<polyline points="699.9,218.5 697.1,224.3" fill="none" stroke="#808080" stroke-width="0.95" stroke-linejoin="round" stroke-linecap="round" />
<path d="M925.8,162.4 C926.6,162.4 931.4,161.6 932.2,162.0 C933.1,162.4 933.6,165.0 932.9,165.8 C932.1,166.7 927.4,169.1 925.8,169.4 C924.3,169.7 920.7,170.0 919.4,168.4 C918.2,166.8 916.4,158.0 915.2,155.6 C913.9,153.1 910.2,148.2 908.8,147.5 C907.4,146.8 903.6,148.4 903.0,149.6 C902.5,150.8 903.0,154.3 903.9,157.7 C904.8,161.2 908.5,175.1 910.9,179.0 C913.4,183.0 922.6,188.0 924.8,191.8 C926.9,195.7 927.2,208.2 929.5,212.1 C931.7,215.9 941.2,223.5 944.0,224.9 C946.8,226.3 952.9,225.1 953.6,223.8 C954.2,222.6 950.3,215.5 949.3,214.2 C948.3,213.0 945.2,214.5 945.0,213.2 C944.9,211.8 947.5,204.6 947.8,202.5 C948.1,200.4 948.6,196.1 947.8,195.0 C947.0,194.0 941.6,193.7 940.8,193.5" fill="none" stroke="#808080" stroke-width="5.3" stroke-linejoin="round" stroke-linecap="round" />
<path d="M925.8,162.4 C926.6,162.4 931.4,161.6 932.2,162.0 C933.1,162.4 933.6,165.0 932.9,165.8 C932.1,166.7 927.4,169.1 925.8,169.4 C924.3,169.7 920.7,170.0 919.4,168.4 C918.2,166.8 916.4,158.0 915.2,155.6 C913.9,153.1 910.2,148.2 908.8,147.5 C907.4,146.8 903.6,148.4 903.0,149.6 C902.5,150.8 903.0,154.3 903.9,157.7 C904.8,161.2 908.5,175.1 910.9,179.0 C913.4,183.0 922.6,188.0 924.8,191.8 C926.9,195.7 927.2,208.2 929.5,212.1 C931.7,215.9 941.2,223.5 944.0,224.9 C946.8,226.3 952.9,225.1 953.6,223.8 C954.2,222.6 950.3,215.5 949.3,214.2 C948.3,213.0 945.2,214.5 945.0,213.2 C944.9,211.8 947.5,204.6 947.8,202.5 C948.1,200.4 948.6,196.1 947.8,195.0 C947.0,194.0 941.6,193.7 940.8,193.5" fill="none" stroke="#fff" stroke-width="2.01" stroke-linejoin="round" stroke-linecap="round" />
<path d="M908.1,152.4 C909.0,155.1 912.8,171.6 915.2,175.8 C917.6,180.1 926.5,184.8 928.6,188.6 C930.7,192.5 931.5,205.4 933.3,208.9 C935.1,212.4 942.7,217.4 944.0,218.5" fill="none" stroke="#808080" stroke-width="1.26" stroke-linejoin="round" stroke-linecap="round" />
<polygon points="350.0,269.6 360.0,273.0 362.0,280.0 357.0,287.0 375.0,298.0 374.0,302.0 365.0,312.0 366.0,319.0 363.0,325.0 356.0,320.0 348.0,312.0 337.0,316.0 338.0,326.0 348.0,347.0 352.0,344.0 368.0,342.0 381.0,329.0 388.0,331.0 389.0,339.0 402.0,352.0 403.0,357.0 394.0,368.0 397.0,374.0 393.0,380.0 378.0,373.0 373.0,361.0 339.0,378.0 334.0,377.0 328.0,368.0 334.0,358.0 324.0,338.0 319.0,336.0 312.0,334.0 306.0,325.0 314.0,312.0 319.0,312.0 334.0,288.0" fill="#fff" stroke="#808080" stroke-width="2.04" stroke-linejoin="round" stroke-linecap="round" />
<polyline points="319.0,312.0 324.0,318.0 319.0,336.0" fill="none" stroke="#808080" stroke-width="1.05" stroke-linejoin="round" stroke-linecap="round" />
<polyline points="314.0,312.0 314.0,324.0 320.0,335.0" fill="none" stroke="#808080" stroke-width="1.05" stroke-linejoin="round" stroke-linecap="round" />
<polyline points="334.0,288.0 338.0,290.0 330.0,299.0 331.0,314.0 337.0,316.0" fill="none" stroke="#808080" stroke-width="1.05" stroke-linejoin="round" stroke-linecap="round" />
<polyline points="338.0,290.0 344.0,294.0 348.0,291.0 357.0,294.0" fill="none" stroke="#808080" stroke-width="1.05" stroke-linejoin="round" stroke-linecap="round" />
<polyline points="334.0,304.0 346.0,299.0 342.0,308.0 334.0,310.0 334.0,304.0" fill="none" stroke="#808080" stroke-width="1.05" stroke-linejoin="round" stroke-linecap="round" />
<polyline points="346.0,299.0 354.0,296.0 349.0,308.0 348.0,312.0" fill="none" stroke="#808080" stroke-width="1.05" stroke-linejoin="round" stroke-linecap="round" />
<polyline points="350.0,279.0 354.0,273.0" fill="none" stroke="#808080" stroke-width="1.05" stroke-linejoin="round" stroke-linecap="round" />
<polyline points="350.0,283.0 357.0,287.0" fill="none" stroke="#808080" stroke-width="1.05" stroke-linejoin="round" stroke-linecap="round" />
<polyline points="350.0,279.0 350.0,283.0" fill="none" stroke="#808080" stroke-width="1.05" stroke-linejoin="round" stroke-linecap="round" />
<polyline points="365.0,298.0 363.0,307.0" fill="none" stroke="#808080" stroke-width="1.05" stroke-linejoin="round" stroke-linecap="round" />
<polyline points="327.0,326.0 332.0,330.0 334.0,338.0" fill="none" stroke="#808080" stroke-width="1.05" stroke-linejoin="round" stroke-linecap="round" />
<polyline points="330.0,341.0 335.0,339.0" fill="none" stroke="#808080" stroke-width="1.05" stroke-linejoin="round" stroke-linecap="round" />
<polyline points="334.0,348.0 338.0,351.0 344.0,348.0 342.0,344.0" fill="none" stroke="#808080" stroke-width="1.05" stroke-linejoin="round" stroke-linecap="round" />
<polyline points="348.0,347.0 344.0,358.0 336.0,368.0 339.0,378.0" fill="none" stroke="#808080" stroke-width="1.05" stroke-linejoin="round" stroke-linecap="round" />
<polyline points="334.0,358.0 338.0,362.0" fill="none" stroke="#808080" stroke-width="1.05" stroke-linejoin="round" stroke-linecap="round" />
<polyline points="352.0,350.0 370.0,358.0 373.0,361.0" fill="none" stroke="#808080" stroke-width="1.05" stroke-linejoin="round" stroke-linecap="round" />
<polyline points="362.0,346.0 374.0,351.0 378.0,350.0 374.0,357.0 386.0,361.0" fill="none" stroke="#808080" stroke-width="1.05" stroke-linejoin="round" stroke-linecap="round" />
<polyline points="381.0,329.0 383.0,339.0 378.0,342.0" fill="none" stroke="#808080" stroke-width="1.05" stroke-linejoin="round" stroke-linecap="round" />
<polyline points="383.0,339.0 389.0,339.0" fill="none" stroke="#808080" stroke-width="1.05" stroke-linejoin="round" stroke-linecap="round" />
<polyline points="388.0,354.0 394.0,358.0 390.0,363.0 388.0,368.0 394.0,368.0" fill="none" stroke="#808080" stroke-width="1.05" stroke-linejoin="round" stroke-linecap="round" />
<polyline points="393.0,380.0 391.0,373.0 386.0,370.0" fill="none" stroke="#808080" stroke-width="1.05" stroke-linejoin="round" stroke-linecap="round" />
<polyline points="328.0,368.0 337.0,375.0" fill="none" stroke="#808080" stroke-width="1.05" stroke-linejoin="round" stroke-linecap="round" />
<path d="M348.0,312.0 C348.5,311.6 350.5,309.0 352.0,309.0 C353.5,309.0 357.3,310.7 359.0,312.0 C360.7,313.3 364.2,318.1 365.0,319.0" fill="none" stroke="#808080" stroke-width="1.16" stroke-linejoin="round" stroke-linecap="round" />
<polygon points="425.3,193.7 431.0,188.7 434.5,191.2 441.4,189.1 443.2,194.4 440.0,194.9 445.1,211.0 449.4,209.6 450.8,213.8 445.3,222.5 442.8,226.6 437.9,224.3 434.5,226.6 428.7,229.4 420.7,212.1 424.1,208.7 428.7,204.1" fill="#F7941D" stroke="#000" stroke-width="2.04" stroke-linejoin="round" stroke-linecap="round" />
<polyline points="434.5,201.8 437.9,199.5" fill="none" stroke="#000" stroke-width="1.16" stroke-linejoin="round" stroke-linecap="round" />
<polyline points="431.7,212.1 436.8,209.2" fill="none" stroke="#000" stroke-width="1.16" stroke-linejoin="round" stroke-linecap="round" />
<polyline points="427.6,217.9 432.2,215.1" fill="none" stroke="#000" stroke-width="1.16" stroke-linejoin="round" stroke-linecap="round" />
<polyline points="438.6,216.1 441.4,213.8" fill="none" stroke="#000" stroke-width="1.16" stroke-linejoin="round" stroke-linecap="round" />
<polyline points="434.5,222.5 437.9,220.2" fill="none" stroke="#000" stroke-width="1.16" stroke-linejoin="round" stroke-linecap="round" />
<polygon points="456.3,213.8 462.1,206.9 466.7,209.8 473.6,219.0 478.9,234.0 477.7,239.7 471.3,246.0 467.8,242.0 460.9,246.6 451.7,231.7 455.2,227.1 458.6,220.2" fill="#F7941D" stroke="#000" stroke-width="2.04" stroke-linejoin="round" stroke-linecap="round" />
<polyline points="462.1,221.3 466.7,218.4" fill="none" stroke="#000" stroke-width="1.16" stroke-linejoin="round" stroke-linecap="round" />
<polyline points="458.6,231.7 463.9,228.2" fill="none" stroke="#000" stroke-width="1.16" stroke-linejoin="round" stroke-linecap="round" />
<polyline points="469.0,229.4 473.1,226.6" fill="none" stroke="#000" stroke-width="1.16" stroke-linejoin="round" stroke-linecap="round" />
<polyline points="460.3,238.1 464.4,235.4" fill="none" stroke="#000" stroke-width="1.16" stroke-linejoin="round" stroke-linecap="round" />
<polyline points="470.1,236.8 473.6,234.5" fill="none" stroke="#000" stroke-width="1.16" stroke-linejoin="round" stroke-linecap="round" />
<polygon points="486.2,224.3 493.1,215.1 497.7,220.2 501.2,222.5 508.1,231.7 512.7,229.4 510.4,225.3 518.4,222.5 521.4,227.1 518.4,234.0 528.8,248.9 532.2,251.2 533.4,257.0 535.7,269.6 542.6,271.9 538.0,280.0 533.4,283.4 528.8,280.0 524.2,282.3 517.3,283.4 508.1,277.7 504.6,271.9 497.7,272.6 490.8,263.9 487.4,251.2 483.3,245.5 485.6,239.7 492.0,231.7 490.8,225.9" fill="#F7941D" stroke="#000" stroke-width="2.04" stroke-linejoin="round" stroke-linecap="round" />
<polyline points="497.7,222.5 488.5,243.2" fill="none" stroke="#000" stroke-width="1.26" stroke-linejoin="round" stroke-linecap="round" />
<polyline points="501.2,225.3 491.5,247.3" fill="none" stroke="#000" stroke-width="1.26" stroke-linejoin="round" stroke-linecap="round" />
<polyline points="504.6,230.5 494.8,252.4" fill="none" stroke="#000" stroke-width="1.26" stroke-linejoin="round" stroke-linecap="round" />
<polyline points="508.1,234.0 504.6,239.7 508.1,240.9 498.9,255.8" fill="none" stroke="#000" stroke-width="1.26" stroke-linejoin="round" stroke-linecap="round" />
<polyline points="512.7,230.5 515.0,236.3 512.7,240.9 502.3,258.1 508.1,276.5" fill="none" stroke="#000" stroke-width="1.26" stroke-linejoin="round" stroke-linecap="round" />
<polyline points="487.4,251.2 491.5,247.3 494.8,252.4 498.9,255.8 502.3,258.1" fill="none" stroke="#000" stroke-width="1.26" stroke-linejoin="round" stroke-linecap="round" />
<polyline points="494.8,252.4 501.2,271.9" fill="none" stroke="#000" stroke-width="1.26" stroke-linejoin="round" stroke-linecap="round" />
<polyline points="498.9,255.8 504.6,271.9" fill="none" stroke="#000" stroke-width="1.26" stroke-linejoin="round" stroke-linecap="round" />
<polyline points="515.0,234.0 518.4,234.0" fill="none" stroke="#000" stroke-width="1.26" stroke-linejoin="round" stroke-linecap="round" />
<ellipse cx="519.6" cy="260.0" rx="1.7" ry="2" transform="rotate(0 519.6 260.0)" fill="#F7941D" stroke="#000" stroke-width="1.16"/>
<ellipse cx="514.3" cy="266.7" rx="1.7" ry="2" transform="rotate(0 514.3 266.7)" fill="#F7941D" stroke="#000" stroke-width="1.16"/>
<path d="M547.2,276.5 C547.8,273.5 554.3,263.5 555.9,262.1 C557.5,260.6 560.7,261.6 562.1,262.7 C563.5,263.9 567.8,270.2 569.0,273.1 C570.3,276.0 573.6,287.8 573.9,290.3 C574.1,292.8 572.7,295.1 571.3,296.6 C570.0,298.0 562.6,303.5 561.0,304.1 C559.4,304.8 557.5,303.8 556.4,302.3 C555.3,300.8 551.6,293.1 550.6,290.3 C549.7,287.6 546.6,279.6 547.2,276.5Z" fill="#F7941D" stroke="#000" stroke-width="2.04" stroke-linejoin="round" stroke-linecap="round" />
<path d="M556.4,273.1 C556.1,274.3 554.2,279.7 554.6,282.3 C554.9,284.9 558.1,291.3 558.7,292.6" fill="none" stroke="#000" stroke-width="1.16" stroke-linejoin="round" stroke-linecap="round" />
<path d="M564.4,273.1 C565.1,274.3 569.3,279.8 569.7,282.3 C570.1,284.7 568.9,289.8 567.4,291.5 C566.0,293.2 559.9,294.5 558.7,294.9" fill="none" stroke="#000" stroke-width="1.16" stroke-linejoin="round" stroke-linecap="round" />
<path d="M561.0,276.5 C561.5,277.5 565.0,281.6 565.1,283.4 C565.3,285.3 562.5,289.4 562.1,290.3" fill="none" stroke="#000" stroke-width="1.05" stroke-linejoin="round" stroke-linecap="round" />
<ellipse cx="561.0" cy="283.4" rx="1.6" ry="2.0" transform="rotate(0 561.0 283.4)" fill="#F7941D" stroke="#000" stroke-width="1.05"/>
<polyline points="558.2,280.0 564.4,278.2" fill="none" stroke="#000" stroke-width="0.95" stroke-linejoin="round" stroke-linecap="round" />
<polyline points="558.7,286.9 564.4,285.7" fill="none" stroke="#000" stroke-width="0.95" stroke-linejoin="round" stroke-linecap="round" />
<path d="M582.8,293.8 Q589.9,280.8 593.8,281.1 Q599.6,282.3 602.4,290.3 Q609.6,302.3 607.0,314.5 Q604.0,321.5 595.5,323.7 L590.9,321.4 L584.0,321.4 L582.8,316.8 L587.4,315.6 L585.1,308.1 L578.2,308.1 L577.6,303.0 L582.8,303.0Z" fill="#F7941D" stroke="#000" stroke-width="2.04" stroke-linejoin="round" stroke-linecap="round" />
<ellipse cx="596.0" cy="302.1" rx="1.6" ry="2.1" transform="rotate(0 596.0 302.1)" fill="#F7941D" stroke="#000" stroke-width="1.16"/>
<path d="M152.7,373.8 C153.7,372.8 159.4,366.2 161.3,365.6 C163.1,364.9 167.4,367.0 168.9,368.1 C170.3,369.1 176.2,373.1 173.6,374.3 C171.1,375.5 151.2,377.8 147.0,378.5 C142.8,379.2 140.2,380.1 137.5,380.4 C134.8,380.7 127.4,379.8 124.2,381.4 C121.0,382.9 112.7,390.0 110.0,393.7 C107.2,397.4 101.9,408.9 101.0,412.7 C100.1,416.5 101.4,423.5 102.4,426.0 C103.3,428.6 107.8,432.3 109.0,434.6 C110.2,436.8 112.8,442.2 112.4,445.0 C112.1,447.8 106.5,456.2 106.2,458.7 C105.8,461.2 107.6,465.0 109.0,466.3 C110.4,467.6 116.0,469.2 118.5,470.1 C121.1,470.9 127.5,472.0 130.9,473.5 C134.2,475.0 145.1,481.9 147.0,483.0" fill="#fff" stroke="#808080" stroke-width="1.92" stroke-linejoin="round" stroke-linecap="round" />
<path d="M137.5,380.4 C135.5,381.8 125.5,387.3 122.3,390.9 C119.1,394.4 115.0,403.8 113.8,407.0 C112.5,410.2 112.9,413.6 112.8,414.6" fill="none" stroke="#808080" stroke-width="1.05" stroke-linejoin="round" stroke-linecap="round" />
<path d="M134.7,384.2 C132.9,385.7 123.9,392.6 121.4,395.6 C118.8,398.6 116.4,405.5 115.7,407.0" fill="none" stroke="#808080" stroke-width="1.05" stroke-linejoin="round" stroke-linecap="round" />
<polygon points="126.1,405.1 118.5,407.0 109.0,416.5 109.0,426.0 116.6,432.1 124.2,418.4" fill="#fff" stroke="#808080" stroke-width="1.56" stroke-linejoin="round" stroke-linecap="round" />
<ellipse cx="114.7" cy="423.2" rx="2.2" ry="3.6" transform="rotate(25 114.7 423.2)" fill="#fff" stroke="#808080" stroke-width="1.05"/>
<polyline points="109.0,426.0 103.3,418.4 105.2,414.6 112.8,412.7" fill="none" stroke="#808080" stroke-width="1.05" stroke-linejoin="round" stroke-linecap="round" />
<ellipse cx="163.7" cy="431.3" rx="39.2" ry="59.0" transform="rotate(15 163.7 431.3)" fill="#fff" stroke="#808080" stroke-width="1.92"/>
<ellipse cx="171.7" cy="432.1" rx="39.2" ry="59.6" transform="rotate(15 171.7 432.1)" fill="#fff" stroke="#808080" stroke-width="1.92"/>
<ellipse cx="170.8" cy="439.3" rx="21" ry="29" transform="rotate(15 170.8 439.3)" fill="none" stroke="#808080" stroke-width="1.1" pathLength="100" stroke-dasharray="0 22 58 20"/>
<ellipse cx="176.5" cy="440.3" rx="19" ry="25.8" transform="rotate(15 176.5 440.3)" fill="#fff" stroke="#808080" stroke-width="1.56"/>
<ellipse cx="179.3" cy="441.2" rx="15.6" ry="21.2" transform="rotate(15 179.3 441.2)" fill="#fff" stroke="#808080" stroke-width="1.8"/>
<ellipse cx="180.8" cy="442.0" rx="11.8" ry="17.2" transform="rotate(15 180.8 442.0)" fill="#fff" stroke="#808080" stroke-width="1.56"/>
<ellipse cx="198.7" cy="397.1" rx="2.8" ry="5.2" transform="rotate(25 198.7 397.1)" fill="#fff" stroke="#808080" stroke-width="1.16"/>
<path d="M179.6,411.5 L163.4,402.0 A2.9,5.2 30.4 0 1 168.6,393.0 L184.8,402.5" fill="#fff" stroke="#808080" stroke-width="1.8" stroke-linejoin="round" stroke-linecap="round" />
<ellipse cx="182.2" cy="407.0" rx="2.9" ry="5.2" transform="rotate(30.4 182.2 407.0)" fill="#fff" stroke="#808080" stroke-width="1.8"/>
<path d="M149.3,459.0 L132.2,449.5 A2.9,5.2 29.1 0 1 137.2,440.5 L154.3,450.0" fill="#fff" stroke="#808080" stroke-width="1.8" stroke-linejoin="round" stroke-linecap="round" />
<ellipse cx="151.8" cy="454.5" rx="2.9" ry="5.2" transform="rotate(29.1 151.8 454.5)" fill="#fff" stroke="#808080" stroke-width="1.8"/>
<path d="M169.1,492.3 L153.0,482.8 A2.9,5.2 30.5 0 1 158.2,473.8 L174.3,483.3" fill="#fff" stroke="#808080" stroke-width="1.8" stroke-linejoin="round" stroke-linecap="round" />
<ellipse cx="171.7" cy="487.8" rx="2.9" ry="5.2" transform="rotate(30.5 171.7 487.8)" fill="#fff" stroke="#808080" stroke-width="1.8"/>
<path d="M212.7,463.7 L195.6,453.2 A2.9,5.2 31.6 0 1 201.0,444.4 L218.1,454.9" fill="#fff" stroke="#808080" stroke-width="1.8" stroke-linejoin="round" stroke-linecap="round" />
<ellipse cx="215.4" cy="459.3" rx="2.9" ry="5.2" transform="rotate(31.6 215.4 459.3)" fill="#fff" stroke="#808080" stroke-width="1.8"/>
<ellipse cx="234.6" cy="369" rx="5.6" ry="8" transform="rotate(25 234.6 369)" fill="#fff" stroke="#808080" stroke-width="1.92"/>
<path d="M255.7,385.6 L233.7,374.2 L238.3,365.4 L260.3,376.8" fill="#fff" stroke="#808080" stroke-width="1.8" stroke-linejoin="round" stroke-linecap="round" />
<ellipse cx="258" cy="381.2" rx="2.7" ry="4.9" transform="rotate(27.4 258 381.2)" fill="#fff" stroke="#808080" stroke-width="1.8"/>
<path d="M425.3,410.5 C425.1,410.0 425.8,407.1 423.8,406.8 C421.8,406.5 415.0,407.2 410.2,408.3 C405.4,409.4 393.7,412.4 387.7,415.0 C381.7,417.6 370.7,423.8 365.1,427.8 C359.5,431.8 350.5,440.3 345.6,445.1 C340.7,449.9 330.6,461.4 328.3,463.9L328.3,463.9 L345.6,478.9 L337.2,471.2 C335.2,473.6 325.2,484.8 322.2,489.2 C319.2,493.7 316.7,502.1 314.7,504.9 C312.7,507.7 309.1,505.6 307.1,510.3 C305.1,515.0 301.0,532.8 299.6,540.4 C298.2,548.0 296.8,563.5 296.6,567.4 C296.4,571.3 297.2,567.2 298.0,569.6 C298.8,572.0 301.2,581.9 302.5,585.4 C303.9,588.8 307.9,593.6 308.2,595.5 C308.4,597.5 304.4,598.5 304.4,600.0 C304.4,601.5 306.0,604.6 308.2,606.8 C310.3,609.1 316.5,614.9 320.6,617.0 C324.6,619.1 333.8,621.8 338.6,622.6 C343.4,623.3 351.9,623.3 356.7,622.6 C361.5,621.8 369.3,619.4 374.7,617.0 C380.1,614.6 391.8,608.5 397.2,604.6 C402.7,600.6 411.4,591.7 415.3,587.6 C419.2,583.6 422.5,580.4 426.6,574.1 C430.6,567.8 441.4,548.9 445.5,540.4 C449.6,531.9 455.2,516.9 457.5,510.3 C459.8,503.7 462.2,493.4 462.9,490.8L462.9,490.8 L448.5,501.3 L430.5,510.3 L421.4,513.3 L400.4,532.9 L397.4,553.9 L349.2,573.5 L344.1,512.1 L344.1,512.0 L352.3,508.3 L356.1,499.2 L357.6,493.2 L388.4,476.7 L404.2,442.1 L411.7,440.6 L425.3,410.5Z" fill="#fff" stroke="#808080" stroke-width="2.04" stroke-linejoin="round" stroke-linecap="round" />
<polyline points="345.6,478.9 351.6,476.7 365.1,464.7 371.9,459.4 389.2,448.1 404.2,442.1" fill="none" stroke="#808080" stroke-width="1.26" stroke-linejoin="round" stroke-linecap="round" />
<polyline points="365.1,472.2 360.6,482.0 347.1,491.7 339.5,505.3" fill="none" stroke="#808080" stroke-width="1.16" stroke-linejoin="round" stroke-linecap="round" />
<polyline points="365.1,464.7 365.1,472.2" fill="none" stroke="#808080" stroke-width="1.16" stroke-linejoin="round" stroke-linecap="round" />
<polyline points="335.0,466.9 362.9,434.9 370.4,437.6 371.9,450.4 366.9,458.3 354.9,466.5 350.8,476.7 345.9,478.9" fill="none" stroke="#808080" stroke-width="1.26" stroke-linejoin="round" stroke-linecap="round" />
<polyline points="363.6,439.4 365.1,450.4 354.3,458.9 351.9,466.2 342.3,474.9" fill="none" stroke="#808080" stroke-width="1.05" stroke-linejoin="round" stroke-linecap="round" />
<polygon points="386.2,421.1 417.0,413.5 419.5,415.8 410.2,430.8 388.4,436.8" fill="#fff" stroke="#808080" stroke-width="1.26" stroke-linejoin="round" stroke-linecap="round" />
<polyline points="390.7,429.3 405.7,425.9 415.9,415.8" fill="none" stroke="#808080" stroke-width="1.05" stroke-linejoin="round" stroke-linecap="round" />
<polyline points="391.0,432.3 407.2,428.6" fill="none" stroke="#808080" stroke-width="1.05" stroke-linejoin="round" stroke-linecap="round" />
<polyline points="372.6,434.6 384.7,428.6" fill="none" stroke="#808080" stroke-width="1.05" stroke-linejoin="round" stroke-linecap="round" />
<polyline points="380.2,460.9 380.9,478.2" fill="none" stroke="#808080" stroke-width="1.16" stroke-linejoin="round" stroke-linecap="round" />
<polyline points="389.9,450.4 389.2,472.9" fill="none" stroke="#808080" stroke-width="1.16" stroke-linejoin="round" stroke-linecap="round" />
<ellipse cx="347.8" cy="504.1" rx="6" ry="6.6" transform="rotate(0 347.8 504.1)" fill="#fff" stroke="#808080" stroke-width="1.26"/>
<path d="M314.7,504.9 C316.0,502.6 319.9,504.8 320.7,507.3 C321.4,509.7 323.6,530.5 323.7,534.4 C323.8,538.2 323.4,550.9 322.2,553.9 C320.9,556.9 310.3,569.6 308.6,570.5 C307.0,571.3 303.0,567.4 302.6,564.4 C302.3,561.4 303.1,539.3 304.1,534.4 C305.1,529.4 313.3,507.1 314.7,504.9Z" fill="none" stroke="#808080" stroke-width="1.26" stroke-linejoin="round" stroke-linecap="round" />
<path d="M314.7,511.8 C315.1,514.1 318.3,530.3 318.6,534.4 C318.9,538.4 318.7,549.5 317.7,552.4 C316.7,555.3 309.5,561.9 308.6,562.9" fill="none" stroke="#808080" stroke-width="1.05" stroke-linejoin="round" stroke-linecap="round" />
<path d="M335.7,519.3 C336.2,518.3 339.6,520.1 340.2,522.3 C340.9,524.6 342.9,542.0 343.2,546.4 C343.6,550.8 345.0,572.3 344.7,575.0 C344.5,577.6 341.0,579.3 340.2,578.0 C339.5,576.6 336.2,562.1 335.7,558.4 C335.2,554.8 334.2,537.6 334.2,534.4 C334.2,531.1 335.2,520.3 335.7,519.3Z" fill="none" stroke="#808080" stroke-width="1.26" stroke-linejoin="round" stroke-linecap="round" />
<path d="M329.7,510.3 C329.6,513.8 328.3,532.7 328.8,540.4 C329.3,548.1 332.2,569.8 334.2,576.5 C336.2,583.1 344.8,595.1 346.2,597.5" fill="none" stroke="#808080" stroke-width="1.05" stroke-linejoin="round" stroke-linecap="round" />
<polyline points="348.8,578.2 352.2,585.8 360.0,586.5 363.9,579.1 364.6,574.1" fill="none" stroke="#808080" stroke-width="1.16" stroke-linejoin="round" stroke-linecap="round" />
<polyline points="366.8,580.9 401.8,558.3 407.4,560.6 411.9,579.1 392.7,592.2 388.2,579.1 381.5,575.2 370.2,583.1" fill="none" stroke="#808080" stroke-width="1.16" stroke-linejoin="round" stroke-linecap="round" />
<polygon points="392.7,584.3 397.2,565.1 402.9,566.2 401.8,579.1" fill="#fff" stroke="#808080" stroke-width="1.16" stroke-linejoin="round" stroke-linecap="round" />
<polyline points="338.6,579.8 345.4,597.8 364.6,601.2 373.6,605.2 371.3,615.8" fill="none" stroke="#808080" stroke-width="1.16" stroke-linejoin="round" stroke-linecap="round" />
<polyline points="370.2,583.1 379.2,587.6 380.3,597.8 382.6,615.8" fill="none" stroke="#808080" stroke-width="1.16" stroke-linejoin="round" stroke-linecap="round" />
<polyline points="322.8,612.4 332.3,602.3 339.1,610.2 361.2,606.8 365.7,601.6" fill="none" stroke="#808080" stroke-width="1.05" stroke-linejoin="round" stroke-linecap="round" />
<polyline points="415.3,550.4 426.6,574.1" fill="none" stroke="#808080" stroke-width="1.05" stroke-linejoin="round" stroke-linecap="round" />
<polyline points="422.9,513.9 432.0,522.3 442.5,517.8 448.5,502.8" fill="none" stroke="#808080" stroke-width="1.16" stroke-linejoin="round" stroke-linecap="round" />
<polyline points="438.0,516.3 442.5,505.8" fill="none" stroke="#808080" stroke-width="1.05" stroke-linejoin="round" stroke-linecap="round" />
<polyline points="400.4,532.9 406.4,546.4 416.9,540.4" fill="none" stroke="#808080" stroke-width="1.05" stroke-linejoin="round" stroke-linecap="round" />
<polyline points="397.4,553.9 406.4,546.4" fill="none" stroke="#808080" stroke-width="1.05" stroke-linejoin="round" stroke-linecap="round" />
<path d="M417.0,655.4 L396.0,643.8 A2.5,4.1 -151.1 0 0 392.0,651.0 L413.0,662.6" fill="#fff" stroke="#808080" stroke-width="1.92" stroke-linejoin="round" stroke-linecap="round" />
<path d="M410.7,651.9 A2.0,4.1 -151.1 0 0 406.7,659.1" fill="none" stroke="#808080" stroke-width="1.26" stroke-linejoin="round" stroke-linecap="round" />
<path d="M406.3,649.5 A2.0,4.1 -151.1 0 0 402.4,656.7" fill="none" stroke="#808080" stroke-width="1.26" stroke-linejoin="round" stroke-linecap="round" />
<path d="M402.0,647.1 A2.0,4.1 -151.1 0 0 398.0,654.3" fill="none" stroke="#808080" stroke-width="1.26" stroke-linejoin="round" stroke-linecap="round" />
<path d="M397.7,644.7 A2.0,4.1 -151.1 0 0 393.7,651.9" fill="none" stroke="#808080" stroke-width="1.26" stroke-linejoin="round" stroke-linecap="round" />
<ellipse cx="415" cy="659" rx="4.9" ry="9.8" transform="rotate(-151.1 415 659)" fill="#fff" stroke="#808080" stroke-width="1.92"/>
<polygon points="410.6,662.6 413.2,655.8 418.1,652.5 425.5,656.6 427.7,660.0 425.1,666.8 420.3,670.1 412.8,666.0" fill="#fff" stroke="#808080" stroke-width="1.92" stroke-linejoin="round" stroke-linecap="round" />
<polyline points="425.5,656.6 418.1,652.5" fill="none" stroke="#808080" stroke-width="1.26" stroke-linejoin="round" stroke-linecap="round" />
<polyline points="420.7,659.9 413.2,655.8" fill="none" stroke="#808080" stroke-width="1.26" stroke-linejoin="round" stroke-linecap="round" />
<polyline points="418.1,666.7 410.6,662.6" fill="none" stroke="#808080" stroke-width="1.26" stroke-linejoin="round" stroke-linecap="round" />
<polyline points="420.3,670.1 412.8,666.0" fill="none" stroke="#808080" stroke-width="1.26" stroke-linejoin="round" stroke-linecap="round" />
<polyline points="425.1,666.8 417.6,662.6" fill="none" stroke="#808080" stroke-width="1.26" stroke-linejoin="round" stroke-linecap="round" />
<polyline points="427.7,660.0 420.3,655.9" fill="none" stroke="#808080" stroke-width="1.26" stroke-linejoin="round" stroke-linecap="round" />
<polygon points="425.5,656.6 420.7,659.9 418.1,666.7 420.3,670.1 425.1,666.8 427.7,660.0" fill="#fff" stroke="#808080" stroke-width="1.73" stroke-linejoin="round" stroke-linecap="round" />
<ellipse cx="547.8" cy="608.8" rx="74.2" ry="102.2" transform="rotate(20 547.8 608.8)" fill="#fff" stroke="#808080" stroke-width="2.28"/>
<ellipse cx="552.4" cy="609.6" rx="70.5" ry="99.2" transform="rotate(20 552.4 609.6)" fill="none" stroke="#808080" stroke-width="1.2" pathLength="100" stroke-dasharray="0 20 58 22"/>
<ellipse cx="556.8" cy="613.3" rx="53.4" ry="70.8" transform="rotate(20 556.8 613.3)" fill="none" stroke="#808080" stroke-width="1.2" pathLength="100" stroke-dasharray="0 20 66 14"/>
<ellipse cx="559.8" cy="616.4" rx="47.2" ry="65" transform="rotate(20 559.8 616.4)" fill="none" stroke="#808080" stroke-width="1.2" pathLength="100" stroke-dasharray="0 21 64 15"/>
<ellipse cx="568.8" cy="620" rx="36.3" ry="55.4" transform="rotate(20 568.8 620)" fill="#fff" stroke="#808080" stroke-width="1.68"/>
<ellipse cx="570.3" cy="621.5" rx="30.9" ry="46" transform="rotate(20 570.3 621.5)" fill="#fff" stroke="#808080" stroke-width="1.56"/>
<ellipse cx="571.8" cy="620" rx="16.5" ry="22.8" transform="rotate(20 571.8 620)" fill="#fff" stroke="#808080" stroke-width="1.68"/>
<ellipse cx="571.8" cy="589.3" rx="2.6" ry="3.9" transform="rotate(20 571.8 589.3)" fill="#fff" stroke="#808080" stroke-width="1.16"/>
<ellipse cx="595.0" cy="595.3" rx="2.6" ry="3.9" transform="rotate(20 595.0 595.3)" fill="#fff" stroke="#808080" stroke-width="1.16"/>
<ellipse cx="546.3" cy="624.5" rx="2.6" ry="3.9" transform="rotate(20 546.3 624.5)" fill="#fff" stroke="#808080" stroke-width="1.16"/>
<ellipse cx="586.9" cy="635.9" rx="2.6" ry="3.9" transform="rotate(20 586.9 635.9)" fill="#fff" stroke="#808080" stroke-width="1.16"/>
<ellipse cx="555.3" cy="654.6" rx="2.6" ry="3.9" transform="rotate(20 555.3 654.6)" fill="#fff" stroke="#808080" stroke-width="1.16"/>
<path d="M699.5,431.2 C700.4,432.9 702.9,440.6 706.2,443.8 C709.6,446.9 719.2,451.5 725.0,455.0 C730.8,458.5 744.0,466.2 750.0,470.0 C756.0,473.8 766.8,481.2 770.0,483.8 C773.2,486.3 772.4,488.1 774.1,489.4 C775.8,490.7 781.5,493.1 782.6,493.7" fill="none" stroke="#808080" stroke-width="6.5" stroke-linejoin="round" stroke-linecap="butt" />
<path d="M699.5,431.2 C700.4,432.9 702.9,440.6 706.2,443.8 C709.6,446.9 719.2,451.5 725.0,455.0 C730.8,458.5 744.0,466.2 750.0,470.0 C756.0,473.8 766.8,481.2 770.0,483.8 C773.2,486.3 772.4,488.1 774.1,489.4 C775.8,490.7 781.5,493.1 782.6,493.7" fill="none" stroke="#fff" stroke-width="3.33" stroke-linejoin="round" stroke-linecap="square" />
<path d="M785.8,497.3 C788.8,500.1 803.2,512.8 808.2,518.2 C813.2,523.5 820.5,533.1 823.1,537.4 C825.7,541.6 827.2,546.5 827.8,550.1 C828.4,553.8 827.8,563.1 827.8,565.1" fill="none" stroke="#808080" stroke-width="6.5" stroke-linejoin="round" stroke-linecap="butt" />
<path d="M785.8,497.3 C788.8,500.1 803.2,512.8 808.2,518.2 C813.2,523.5 820.5,533.1 823.1,537.4 C825.7,541.6 827.2,546.5 827.8,550.1 C828.4,553.8 827.8,563.1 827.8,565.1" fill="none" stroke="#fff" stroke-width="3.33" stroke-linejoin="round" stroke-linecap="square" />
<path d="M826.3,569.3 C826.2,571.6 825.4,584.1 825.2,586.4" fill="none" stroke="#808080" stroke-width="5.7" stroke-linejoin="round" stroke-linecap="butt" />
<path d="M826.3,569.3 C826.2,571.6 825.4,584.1 825.2,586.4" fill="none" stroke="#fff" stroke-width="2.77" stroke-linejoin="round" stroke-linecap="square" />
<path d="M617.5,423.3 C619.3,422.5 626.0,419.0 631.0,417.0 C636.0,415.0 649.1,410.0 655.0,408.4 C660.9,406.8 670.3,405.2 675.0,405.0 C679.7,404.8 687.3,405.4 690.5,407.0 C693.7,408.6 697.8,413.8 699.0,417.0 C700.2,420.2 699.4,429.1 699.5,431.0" fill="none" stroke="#808080" stroke-width="10.5" stroke-linejoin="round" stroke-linecap="round" />
<path d="M617.5,423.3 C619.3,422.5 626.0,419.0 631.0,417.0 C636.0,415.0 649.1,410.0 655.0,408.4 C660.9,406.8 670.3,405.2 675.0,405.0 C679.7,404.8 687.3,405.4 690.5,407.0 C693.7,408.6 697.8,413.8 699.0,417.0 C700.2,420.2 699.4,429.1 699.5,431.0" fill="none" stroke="#fff" stroke-width="7.08" stroke-linejoin="round" stroke-linecap="round" />
<ellipse cx="699.5" cy="431.2" rx="4.8" ry="2.4" transform="rotate(10 699.5 431.2)" fill="#fff" stroke="#808080" stroke-width="1.26"/>
<polygon points="562.5,448.3 569.5,441.1 580.6,436.1 583.6,428.1 591.6,424.6 593.6,428.1 605.1,423.6 607.6,422.9 609.1,424.6 614.1,422.1 615.6,425.6 609.6,429.6 610.1,433.1 589.6,443.6 588.6,448.6 569.5,455.6" fill="#fff" stroke="#808080" stroke-width="1.92" stroke-linejoin="round" stroke-linecap="round" />
<polyline points="562.5,448.3 581.6,444.6 584.6,437.1 604.6,428.3" fill="none" stroke="#808080" stroke-width="1.05" stroke-linejoin="round" stroke-linecap="round" />
<polyline points="605.1,423.6 604.6,428.3 607.1,432.9" fill="none" stroke="#808080" stroke-width="1.05" stroke-linejoin="round" stroke-linecap="round" />
<polygon points="610.6,403.5 620.6,396.5 625.1,404.5 630.7,403.0 632.2,405.5 628.6,409.5 629.6,412.6 626.6,416.1 623.1,417.1 621.1,415.1 618.6,413.6 615.1,415.6 613.1,414.6 613.1,411.6 615.1,410.6" fill="#fff" stroke="#808080" stroke-width="1.8" stroke-linejoin="round" stroke-linecap="round" />
<polyline points="615.1,410.6 625.1,404.5" fill="none" stroke="#808080" stroke-width="1.05" stroke-linejoin="round" stroke-linecap="round" />
<polyline points="617.6,409.0 628.6,409.5" fill="none" stroke="#808080" stroke-width="1.05" stroke-linejoin="round" stroke-linecap="round" />
<polygon points="630.7,422.6 635.2,420.6 640.7,427.6 635.7,431.6" fill="#fff" stroke="#808080" stroke-width="1.68" stroke-linejoin="round" stroke-linecap="round" />
<polygon points="772.0,494.7 775.2,487.3 784.7,482.0 791.1,487.3 791.1,495.8 782.6,500.1 780.5,505.8 774.1,502.2" fill="#fff" stroke="#808080" stroke-width="1.8" stroke-linejoin="round" stroke-linecap="round" />
<polyline points="775.2,487.3 782.6,492.6 782.6,500.1" fill="none" stroke="#808080" stroke-width="1.05" stroke-linejoin="round" stroke-linecap="round" />
<polyline points="782.6,492.6 791.1,487.3" fill="none" stroke="#808080" stroke-width="1.05" stroke-linejoin="round" stroke-linecap="round" />
<path d="M809.3,561.2 C809.3,560.2 812.0,556.7 813.5,556.5 C815.0,556.4 822.0,558.8 824.2,559.7 C826.4,560.7 834.5,564.9 835.5,566.1 C836.4,567.3 834.8,571.3 833.8,571.9 C832.7,572.5 827.3,572.4 825.2,571.9 C823.2,571.4 815.1,568.3 813.5,567.2 C811.9,566.1 809.3,562.3 809.3,561.2Z" fill="#fff" stroke="#808080" stroke-width="1.8" stroke-linejoin="round" stroke-linecap="round" />
<path d="M827.4,550.1 C827.3,552.4 827.0,564.6 826.9,566.8" fill="none" stroke="#808080" stroke-width="6.5" stroke-linejoin="round" stroke-linecap="butt" />
<path d="M827.4,550.1 C827.3,552.4 827.0,564.6 826.9,566.8" fill="none" stroke="#fff" stroke-width="3.33" stroke-linejoin="round" stroke-linecap="square" />
<polygon points="820.5,585.3 829.5,587.4 832.1,589.6 830.6,603.8 822.0,605.1 818.8,602.4" fill="#fff" stroke="#808080" stroke-width="1.8" stroke-linejoin="round" stroke-linecap="round" />
<polyline points="820.5,585.3 823.1,588.5 822.0,605.1" fill="none" stroke="#808080" stroke-width="1.05" stroke-linejoin="round" stroke-linecap="round" />
<polyline points="823.1,588.5 832.1,589.6" fill="none" stroke="#808080" stroke-width="1.05" stroke-linejoin="round" stroke-linecap="round" />
<g font-weight="bold" font-size="18.6" fill="#1c0f06">
<text x="55" y="759.3" textLength="883.5" lengthAdjust="spacingAndGlyphs">Only one part or sub-assembly in diagram included. See Item Specifics for Reference #.</text>
<text x="55" y="785.3" textLength="883.5" lengthAdjust="spacingAndGlyphs">Diagram may not be specific to your vehicle. See Compatibility for vehicle-specific diagrams.</text>
</g>
</svg>
</body></html>
